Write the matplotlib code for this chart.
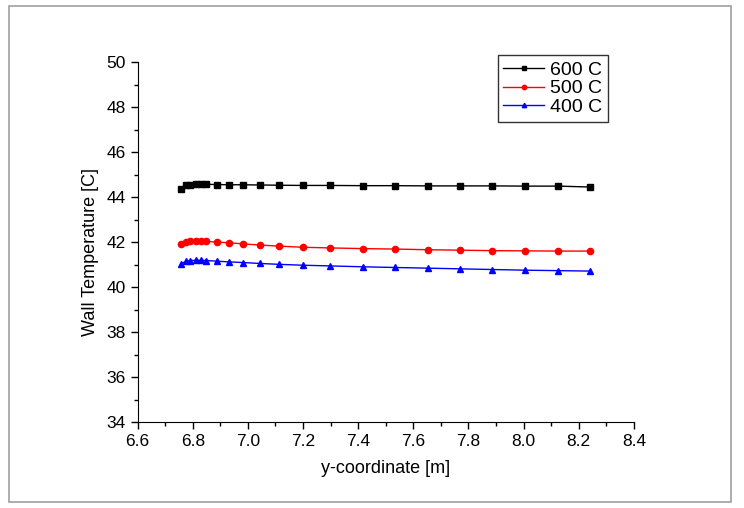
import matplotlib.pyplot as plt
from matplotlib.patches import Rectangle
from matplotlib.ticker import MultipleLocator

plt.rcParams['font.family'] = ['Liberation Sans', 'DejaVu Sans']

# y-coordinate [m]
y_coord = [6.757, 6.774, 6.791, 6.813, 6.831, 6.849, 6.888, 6.931, 6.982, 7.043,
           7.113, 7.200, 7.299, 7.418, 7.535, 7.653, 7.770, 7.886, 8.005, 8.125, 8.241]
# wall temperature [C]
t600 = [44.36, 44.54, 44.56, 44.58, 44.58, 44.58, 44.57, 44.56, 44.56, 44.55,
        44.54, 44.53, 44.53, 44.52, 44.52, 44.51, 44.51, 44.51, 44.50, 44.50, 44.46]
t500 = [41.93, 42.03, 42.06, 42.07, 42.06, 42.04, 42.01, 41.98, 41.93, 41.88,
        41.83, 41.78, 41.75, 41.72, 41.70, 41.67, 41.65, 41.63, 41.62, 41.61, 41.61]
t400 = [41.04, 41.15, 41.19, 41.20, 41.20, 41.19, 41.16, 41.13, 41.10, 41.06,
        41.02, 40.98, 40.95, 40.91, 40.88, 40.85, 40.82, 40.79, 40.76, 40.74, 40.72]
labels = ['600 C', '500 C', '400 C']

fig = plt.figure(figsize=(7.44, 5.08), dpi=100)
fig.patches.append(Rectangle((9 / 744, 1 - 502 / 508), 722 / 744, 496 / 508,
                             transform=fig.transFigure, fill=False,
                             edgecolor='#a0a0a0', lw=1.2))
ax = fig.add_axes([0.185, 0.169, 0.667, 0.708])

ax.plot(y_coord, t600, color='black', marker='s', ms=4, lw=1, label=labels[0])
ax.plot(y_coord, t500, color='red', marker='o', ms=4.5, lw=1, label=labels[1])
ax.plot(y_coord, t400, color='blue', marker='^', ms=4.5, lw=1, label=labels[2])

ax.set_xlim(6.6, 8.4)
ax.set_ylim(34, 50)
ax.xaxis.set_major_locator(MultipleLocator(0.2))
ax.xaxis.set_minor_locator(MultipleLocator(0.1))
ax.yaxis.set_major_locator(MultipleLocator(2))
ax.yaxis.set_minor_locator(MultipleLocator(1))
ax.xaxis.set_major_formatter(plt.FormatStrFormatter('%.1f'))
ax.tick_params(which='major', direction='out', length=5, width=1, labelsize=12.5)
ax.tick_params(which='minor', direction='out', length=3, width=1)
ax.spines['top'].set_visible(False)
ax.spines['right'].set_visible(False)

ax.set_xlabel('y-coordinate [m]', fontsize=13, labelpad=8)
ax.set_ylabel('Wall Temperature [C]', fontsize=13)
ax.yaxis.set_label_coords(-0.078, 0.472)

leg = ax.legend(loc='upper right', bbox_to_anchor=(0.948, 1.02), fontsize=14,
                frameon=True, fancybox=False, edgecolor='black',
                handlelength=2.1, handletextpad=0.3, borderpad=0.3,
                labelspacing=0.05, markerscale=0.7, borderaxespad=0)
leg.get_frame().set_linewidth(1)

fig.savefig('out.png', dpi=100)
